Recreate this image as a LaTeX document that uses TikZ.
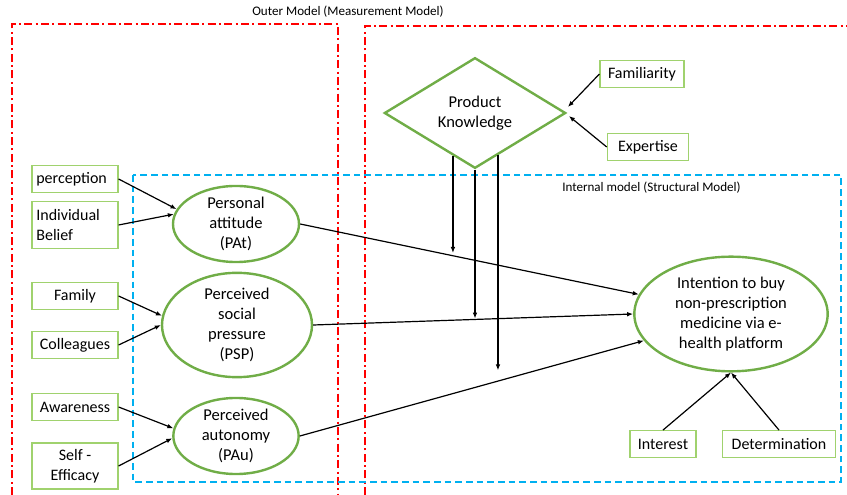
\documentclass[tikz,border=0pt]{standalone}
\usepackage{fontspec}
\setmainfont{Carlito}
\usetikzlibrary{shapes.geometric,calc,arrows.meta}

\definecolor{outerred}{RGB}{255,0,0}
\definecolor{innerblue}{RGB}{0,176,240}
\definecolor{latgreen}{RGB}{112,173,71}
\definecolor{itemgreen}{RGB}{160,210,110}

\tikzset{
	item/.style={draw=itemgreen,line width=0.9pt,inner sep=2pt,font=\fontsize{12}{15}\selectfont},
	latent/.style={ellipse,draw=latgreen,line width=1.8pt,inner sep=0pt,align=center,font=\fontsize{12.4}{15}\selectfont},
	arr/.style={-{Latex[length=4.5pt,width=3.5pt]},line width=0.9pt},
	outer/.style={draw=outerred,line width=1.2pt,dash pattern=on 6pt off 2.5pt on 1.5pt off 2.5pt},
	inner/.style={draw=innerblue,line width=1.1pt,dash pattern=on 5pt off 3pt},
	label/.style={font=\fontsize{9.8}{11}\selectfont,inner sep=0pt}
}

\begin{document}
\begin{tikzpicture}[x=0.75pt,y=-0.75pt]
		\useasboundingbox (0,0) rectangle (847,495);
		
		% model frames
		\draw[outer] (12,495) -- (12,24) -- (338,24) -- (338,495);
		\draw[outer] (365,495) -- (365,26) -- (847,26);
		\draw[inner] (133,175) rectangle (841,482);
		\node[label] (outerlbl) at (348,12) {Outer Model (Measurement Model)};
		\node[label,anchor=west] (innerlbl) at (562,188) {Internal model (Structural Model)};
		
		% latent constructs
		\node[latent,minimum width=94.5pt,minimum height=46.5pt] (pat) at (236,224) {Personal\\attitude\\(PAt)};
		\node[latent,minimum width=112.5pt,minimum height=63pt] (psp) at (237,325) {Perceived\\social\\pressure\\(PSP)};
		\node[latent,minimum width=94pt,minimum height=47pt] (pau) at (236,436) {Perceived\\autonomy\\(PAu)};
		\node[latent,minimum width=145pt,minimum height=86pt] (int) at (731,314) {Intention to buy\\non-prescription\\medicine via e-\\health platform};
		\node[diamond,draw=latgreen,line width=1.8pt,inner sep=0pt,minimum width=136pt,minimum height=83pt,align=center,font=\fontsize{12.4}{15}\selectfont] (pk) at (475,113) {Product\\Knowledge};
		
		% indicators
		\node[item,minimum width=64.5pt,minimum height=20pt,text width=58pt,align=left] (perc) at (75,179) {perception};
		\node[item,minimum width=64.5pt,minimum height=35pt,text width=58pt,align=left] (belief) at (75,225) {Individual\\Belief};
		\node[item,minimum width=64.5pt,minimum height=20pt] (family) at (75,296) {Family};
		\node[item,minimum width=64.5pt,minimum height=20pt] (coll) at (75,345) {Colleagues};
		\node[item,minimum width=64.5pt,minimum height=20pt] (aware) at (75,407) {Awareness};
		\node[item,minimum width=64.5pt,minimum height=34.5pt,align=center] (selfeff) at (75,466) {Self -\\Efficacy};
		\node[item,minimum width=63pt,minimum height=20pt] (famil) at (642,74) {Familiarity};
		\node[item,minimum width=61pt,minimum height=20pt] (expert) at (648,147) {Expertise};
		\node[item,minimum width=49.5pt,minimum height=20pt] (interest) at (663,444) {Interest};
		\node[item,minimum width=85pt,minimum height=20pt] (determ) at (779,444) {Determination};
		
		% measurement arrows
		\draw[arr] (perc.east) -- (pat.166);
		\draw[arr] (belief.east) -- (pat.171);
		\draw[arr] (family.east) -- (psp.173);
		\draw[arr] (coll.east) -- (psp.180);
		\draw[arr] (aware.east) -- (pau.173);
		\draw[arr] (selfeff.east) -- (pau.182);
		\draw[arr] (famil.west) -- ($(pk.east)+(1,-6)$);
		\draw[arr] (expert.west) -- ($(pk.east)+(2,3)$);
		\draw[arr] (interest.north) -- (int.south);
		\draw[arr] (determ.north) -- (int.south);
		
		% structural arrows
		\draw[arr] (pat.east) -- (int.168);
		\draw[arr] (psp.east) -- (int.180);
		\draw[arr] (pau.east) -- (int.197);
		
		% moderation by product knowledge
		\coordinate (k1) at ($(pk.south)!0.24!(pk.west)$);
		\coordinate (k3) at ($(pk.south)!0.25!(pk.east)$);
		\draw[arr] (k1) -- ++(0,97);
		\draw[arr] (pk.south) -- ++(0,149);
		\draw[arr] (k3) -- ++(0,215);
	\end{tikzpicture}
\end{document}
